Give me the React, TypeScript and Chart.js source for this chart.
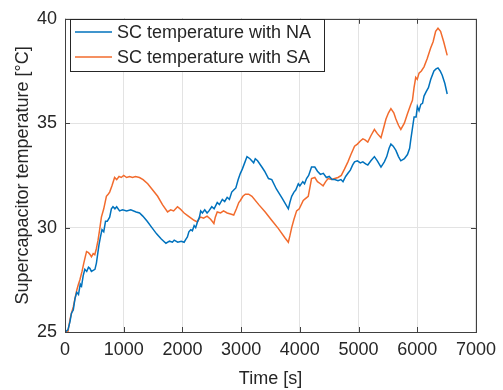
import React, { useEffect, useRef } from "react";
import { Chart, registerables } from "chart.js";

Chart.register(...registerables);

const naLabel = "SC temperature with NA";
const saLabel = "SC temperature with SA";

const naTime = [0, 50, 85, 110, 141, 170, 200, 230, 260, 282, 310, 338, 370, 400, 423, 450, 480, 510, 535, 560, 580, 600, 630, 660, 690, 720, 761, 790, 817, 850, 880, 930, 980, 1050, 1120, 1212, 1270, 1325, 1400, 1480, 1560, 1640, 1719, 1780, 1830, 1860, 1920, 1980, 2029, 2060, 2085, 2110, 2142, 2170, 2200, 2226, 2260, 2290, 2311, 2340, 2380, 2420, 2452, 2500, 2540, 2593, 2630, 2680, 2720, 2762, 2800, 2840, 2874, 2910, 2950, 2987, 3020, 3060, 3100, 3150, 3213, 3241, 3280, 3353, 3400, 3466, 3522, 3600, 3700, 3804, 3830, 3861, 3900, 3930, 3974, 4000, 4050, 4080, 4114, 4150, 4199, 4255, 4300, 4350, 4400, 4452, 4500, 4550, 4594, 4650, 4700, 4735, 4780, 4819, 4860, 4900, 4932, 4980, 5030, 5073, 5120, 5157, 5210, 5270, 5320, 5382, 5439, 5480, 5520, 5551, 5590, 5636, 5680, 5720, 5780, 5833, 5870, 5889, 5920, 5946, 5980, 6002, 6030, 6060, 6090, 6115, 6150, 6190, 6230, 6284, 6320, 6353, 6390, 6425, 6470, 6510];
const naTemp = [25.0, 25.1, 25.5, 25.9, 26.05, 26.6, 26.9, 26.8, 27.3, 27.2, 27.7, 28.0, 27.9, 28.1, 28.05, 27.9, 27.95, 28.0, 28.3, 28.8, 29.2, 29.5, 29.9, 29.8, 30.3, 30.3, 30.5, 30.9, 31.0, 30.9, 31.0, 30.8, 30.85, 30.8, 30.85, 30.75, 30.7, 30.55, 30.3, 30.0, 29.7, 29.45, 29.25, 29.35, 29.3, 29.4, 29.3, 29.35, 29.3, 29.45, 29.55, 29.8, 29.9, 29.85, 30.1, 30.0, 30.3, 30.5, 30.8, 30.7, 30.85, 30.7, 30.8, 31.0, 30.9, 31.2, 31.1, 31.35, 31.25, 31.45, 31.35, 31.7, 31.8, 31.9, 32.3, 32.6, 32.8, 33.1, 33.4, 33.3, 33.1, 33.3, 33.2, 32.9, 32.7, 32.35, 32.3, 31.85, 31.4, 30.9, 31.2, 31.5, 31.7, 31.8, 32.1, 32.0, 32.2, 32.1, 32.35, 32.5, 32.9, 32.9, 32.7, 32.55, 32.6, 32.4, 32.45, 32.3, 32.3, 32.25, 32.3, 32.2, 32.45, 32.6, 32.75, 33.0, 33.15, 33.2, 33.1, 33.15, 33.05, 33.0, 33.2, 33.4, 33.2, 32.9, 33.15, 33.4, 33.8, 34.0, 33.9, 33.7, 33.4, 33.2, 33.3, 33.5, 33.8, 34.2, 34.8, 35.3, 35.3, 35.8, 35.6, 35.9, 35.95, 36.3, 36.5, 36.7, 37.1, 37.5, 37.6, 37.65, 37.5, 37.3, 36.9, 36.4];

const saTime = [0, 50, 85, 110, 141, 170, 200, 230, 254, 290, 320, 345, 367, 400, 430, 451, 480, 507, 535, 563, 590, 620, 660, 705, 735, 761, 800, 845, 880, 920, 958, 1000, 1050, 1100, 1150, 1200, 1268, 1330, 1409, 1480, 1578, 1660, 1747, 1800, 1850, 1916, 1960, 2029, 2100, 2198, 2254, 2290, 2311, 2360, 2420, 2480, 2536, 2560, 2593, 2650, 2700, 2762, 2820, 2874, 2920, 2960, 2987, 3030, 3072, 3128, 3184, 3300, 3410, 3520, 3635, 3748, 3804, 3830, 3861, 3900, 3945, 3990, 4058, 4100, 4143, 4170, 4199, 4255, 4300, 4350, 4396, 4440, 4481, 4540, 4594, 4650, 4706, 4760, 4819, 4870, 4932, 4980, 5030, 5073, 5110, 5157, 5210, 5270, 5320, 5382, 5420, 5467, 5510, 5551, 5600, 5636, 5680, 5720, 5780, 5833, 5889, 5918, 5945, 5974, 6000, 6030, 6070, 6115, 6170, 6228, 6270, 6313, 6353, 6397, 6450, 6510];
const saTemp = [25.0, 25.0, 25.6, 25.9, 26.2, 26.6, 27.0, 27.3, 27.5, 27.9, 28.3, 28.6, 28.85, 28.8, 28.7, 28.6, 28.75, 28.7, 29.0, 29.4, 29.9, 30.5, 30.9, 31.5, 31.6, 31.7, 32.0, 32.4, 32.3, 32.45, 32.4, 32.5, 32.4, 32.45, 32.4, 32.45, 32.4, 32.3, 32.1, 31.85, 31.5, 31.1, 30.75, 30.85, 30.8, 31.0, 30.9, 30.7, 30.55, 30.35, 30.27, 30.45, 30.5, 30.45, 30.55, 30.4, 30.2, 30.5, 30.75, 30.7, 30.8, 30.7, 30.65, 30.6, 30.9, 31.2, 31.3, 31.5, 31.6, 31.6, 31.5, 31.1, 30.75, 30.35, 29.95, 29.5, 29.3, 29.6, 30.0, 30.4, 30.8, 30.9, 31.3, 31.4, 31.5, 31.9, 32.35, 32.4, 32.2, 32.1, 32.0, 32.2, 32.35, 32.3, 32.35, 32.4, 32.5, 32.8, 33.15, 33.5, 33.9, 34.0, 34.15, 34.25, 34.2, 34.1, 34.4, 34.7, 34.5, 34.3, 34.7, 35.2, 35.5, 35.7, 35.5, 35.2, 34.9, 34.7, 35.0, 35.45, 35.9, 36.1, 36.7, 37.2, 37.1, 37.4, 37.5, 37.7, 38.1, 38.6, 38.9, 39.4, 39.55, 39.4, 38.9, 38.25];

const xTicks = [0, 1000, 2000, 3000, 4000, 5000, 6000, 7000];
const yTicks = [25, 30, 35, 40];

const blue = "#0072BD";
const orange = "#F26B2D";
const textColor = "#262626";
const fontFamily = "'Liberation Sans', Arial, Helvetica, sans-serif";
const fontSize = 18;

const boxPlugin = {
  id: "boxPlugin",
  afterDraw(chart: any) {
    const { ctx, chartArea } = chart;
    const { left, right, top, bottom } = chartArea;
    ctx.save();
    ctx.strokeStyle = "#404040";
    ctx.lineWidth = 1;
    const xs = chart.scales.x;
    const ys = chart.scales.y;
    ctx.beginPath();
    xTicks.forEach((v) => {
      const px = Math.round(xs.getPixelForValue(v)) + 0.5;
      ctx.moveTo(px, bottom);
      ctx.lineTo(px, bottom - 5);
      ctx.moveTo(px, top);
      ctx.lineTo(px, top + 5);
    });
    yTicks.forEach((v) => {
      const py = Math.round(ys.getPixelForValue(v)) + 0.5;
      ctx.moveTo(left, py);
      ctx.lineTo(left + 5, py);
      ctx.moveTo(right, py);
      ctx.lineTo(right - 5, py);
    });
    ctx.stroke();
    ctx.strokeRect(Math.round(left) + 0.5, Math.round(top) + 0.5, Math.round(right - left), Math.round(bottom - top));

    // legend
    const lx = 70, ly = 19, lw = 254, lh = 52;
    ctx.fillStyle = "#ffffff";
    ctx.fillRect(lx, ly, lw, lh);
    ctx.strokeStyle = "#262626";
    ctx.strokeRect(lx + 0.5, ly + 0.5, lw, lh);
    chart.data.datasets.forEach((ds: any, i: number) => {
      const y = ly + 13 + i * 25;
      ctx.strokeStyle = ds.borderColor;
      ctx.lineWidth = 1.5;
      ctx.beginPath();
      ctx.moveTo(75, y);
      ctx.lineTo(112, y);
      ctx.stroke();
      ctx.fillStyle = textColor;
      ctx.font = `${fontSize}px ${fontFamily}`;
      ctx.textBaseline = "middle";
      ctx.textAlign = "left";
      ctx.fillText(ds.label, 117, y + 1);
    });
    ctx.restore();
  },
};

export default function App() {
  const ref = useRef<HTMLCanvasElement | null>(null);
  useEffect(() => {
    if (!ref.current) return;
    const chart = new Chart(ref.current, {
      type: "line",
      data: {
        datasets: [
          {
            label: naLabel,
            data: naTime.map((t, i) => ({ x: t, y: naTemp[i] })),
            borderColor: blue,
            borderWidth: 1.5,
            pointRadius: 0,
            tension: 0,
            fill: false,
          },
          {
            label: saLabel,
            data: saTime.map((t, i) => ({ x: t, y: saTemp[i] })),
            borderColor: orange,
            borderWidth: 1.5,
            pointRadius: 0,
            tension: 0,
            fill: false,
          },
        ],
      },
      options: {
        responsive: false,
        animation: false,
        events: [],
        layout: { padding: { top: 18, right: 24, left: 0, bottom: 0 } },
        plugins: { legend: { display: false }, tooltip: { enabled: false } },
        scales: {
          x: {
            type: "linear",
            min: 0,
            max: 7000,
            afterBuildTicks: (scale: any) => {
              scale.ticks = xTicks.map((v) => ({ value: v }));
            },
            afterFit: (scale: any) => {
              scale.height = 58;
            },
            ticks: {
              color: textColor,
              font: { family: fontFamily, size: fontSize },
              padding: 7,
              maxRotation: 0,
              autoSkip: false,
              callback: (v: any) => String(v),
            },
            grid: { color: "#e3e3e3", drawTicks: false },
            border: { display: false },
            title: {
              display: true,
              text: "Time [s]",
              color: textColor,
              font: { family: fontFamily, size: fontSize },
              padding: { top: 0, bottom: 0 },
            },
          },
          y: {
            type: "linear",
            min: 25,
            max: 40,
            afterBuildTicks: (scale: any) => {
              scale.ticks = yTicks.map((v) => ({ value: v }));
            },
            afterFit: (scale: any) => {
              scale.width = 65;
            },
            ticks: {
              color: textColor,
              font: { family: fontFamily, size: fontSize },
              padding: 8,
              autoSkip: false,
              callback: (v: any) => String(v),
            },
            grid: { color: "#e3e3e3", drawTicks: false },
            border: { display: false },
            title: {
              display: true,
              text: "Supercapacitor temperature [°C]",
              color: textColor,
              font: { family: fontFamily, size: fontSize },
              padding: { top: 12, bottom: 0 },
            },
          },
        },
      },
      plugins: [boxPlugin],
    } as any);
    return () => chart.destroy();
  }, []);
  return (
    <div style={{ position: "absolute", left: 0, top: 0, width: 503, height: 390, background: "#fff" }}>
      <canvas ref={ref} width={503} height={390} style={{ display: "block" }} />
    </div>
  );
}
